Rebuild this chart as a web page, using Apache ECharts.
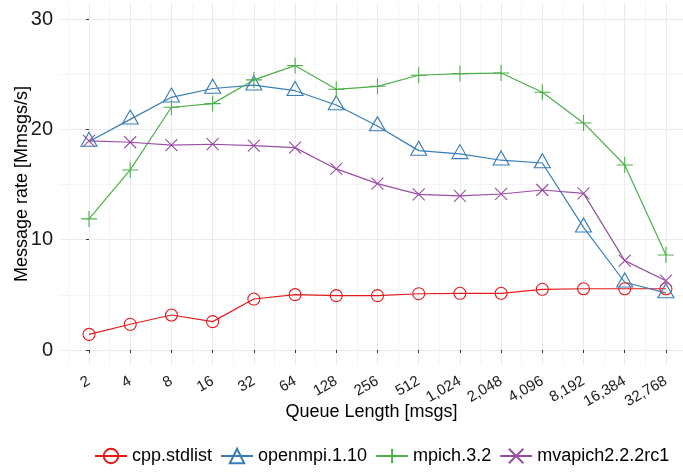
<!DOCTYPE html>
<html>
<head>
<meta charset="utf-8">
<script src="https://cdn.jsdelivr.net/npm/echarts@6/dist/echarts.min.js"></script>
<style>
  html, body { margin: 0; padding: 0; background: #ffffff; }
  #chart { width: 683px; height: 474px; }
</style>
</head>
<body>
<div id="chart"></div>
<script>
// Queue lengths on the x axis (evenly spaced, log2 steps)
const queueLengths = ['2', '4', '8', '16', '32', '64', '128', '256', '512',
  '1,024', '2,048', '4,096', '8,192', '16,384', '32,768'];

// Message rate [Mmsgs/s] per implementation
const cppStdlist    = [1.42, 2.33, 3.17, 2.57, 4.62, 5.02, 4.93, 4.93, 5.10, 5.14, 5.14, 5.50, 5.55, 5.55, 5.55];
const openmpi110    = [18.90, 20.90, 22.90, 23.70, 24.00, 23.50, 22.20, 20.30, 18.07, 17.77, 17.20, 16.95, 11.12, 6.14, 5.17];
const mpich32       = [11.88, 16.32, 22.00, 22.33, 24.48, 25.78, 23.63, 23.90, 24.90, 25.05, 25.10, 23.36, 20.58, 16.77, 8.61];
const mvapich222rc1 = [18.95, 18.83, 18.56, 18.65, 18.52, 18.34, 16.41, 15.08, 14.10, 13.96, 14.14, 14.50, 14.20, 8.10, 6.28];

const yMajorTicks = [0, 10, 20, 30];
const yMinorTicks = [5, 15, 25];

const xMajorTicks = queueLengths.map((_, i) => i);
const xMinorTicks = [-0.5].concat(queueLengths.map((_, i) => i + 0.5));

const FONT = '"Liberation Sans", Arial, Helvetica, sans-serif';
// Panel runs past the right edge of the canvas, so the visible x range ends early
const X_MIN = -0.704, X_MAX = 14.414;
const Y_MIN = -1.36, Y_MAX = 31.45;

const MAJOR_GRID = '#ebebeb';
const MINOR_GRID = '#f5f5f5';

const PLUS = 'path://M0,8L16,8M8,0L8,16';
const CROSS = 'path://M0,0L16,16M0,16L16,0';

function toPoints(values) {
  return values.map((v, i) => [i, v]);
}

function makeSeries(name, values, color, symbol, size, offset) {
  return {
    name: name,
    type: 'line',
    xAxisIndex: 0,
    yAxisIndex: 0,
    data: toPoints(values),
    symbol: symbol,
    symbolSize: size,
    symbolOffset: offset || [0, 0],
    showAllSymbol: true,
    clip: false,
    lineStyle: { color: color, width: 1.2 },
    itemStyle: { color: 'rgba(0,0,0,0)', borderColor: color, borderWidth: 1.1 },
    emphasis: { disabled: true },
    animation: false
  };
}

const chart = echarts.init(document.getElementById('chart'), null, { renderer: 'canvas' });

chart.setOption({
  backgroundColor: '#ffffff',
  animation: false,
  textStyle: { fontFamily: FONT },
  grid: { left: 60, right: 0, top: 3, bottom: 109, containLabel: false, outerBoundsMode: 'none' },
  xAxis: [
    {
      type: 'value', min: X_MIN, max: X_MAX, position: 'bottom', offset: 0,
      axisLine: { show: false },
      axisTick: { show: true, length: 3, customValues: xMajorTicks, lineStyle: { color: '#333333', width: 1 } },
      axisLabel: {
        show: true, customValues: xMajorTicks, rotate: 30, margin: 15,
        fontSize: 15, color: '#1a1a1a', fontFamily: FONT,
        formatter: v => queueLengths[Math.round(v)]
      },
      splitLine: { show: true, lineStyle: { color: MAJOR_GRID, width: 1 } },
      name: 'Queue Length [msgs]', nameLocation: 'middle', nameGap: 38, nameMoveOverlap: false,
      nameTextStyle: { fontSize: 18, color: '#000000', fontFamily: FONT }
    },
    {
      type: 'value', min: X_MIN, max: X_MAX, position: 'bottom', offset: 0,
      axisLine: { show: false },
      axisTick: { show: false, customValues: xMinorTicks },
      axisLabel: { show: false },
      splitLine: { show: true, lineStyle: { color: MINOR_GRID, width: 1 } }
    }
  ],
  yAxis: [
    {
      type: 'value', min: Y_MIN, max: Y_MAX, position: 'left', offset: 0,
      axisLine: { show: false },
      axisTick: { show: true, length: 3, customValues: yMajorTicks, lineStyle: { color: '#333333', width: 1 } },
      axisLabel: {
        show: true, customValues: yMajorTicks, margin: 7,
        fontSize: 20, color: '#1a1a1a', fontFamily: FONT
      },
      splitLine: { show: true, lineStyle: { color: MAJOR_GRID, width: 1 } },
      name: 'Message rate [Mmsgs/s]', nameLocation: 'middle', nameGap: 29, nameRotate: 90,
      nameMoveOverlap: false,
      nameTextStyle: { fontSize: 18, color: '#000000', fontFamily: FONT }
    },
    {
      type: 'value', min: Y_MIN, max: Y_MAX, position: 'left', offset: 0,
      axisLine: { show: false },
      axisTick: { show: false, customValues: yMinorTicks },
      axisLabel: { show: false },
      splitLine: { show: true, lineStyle: { color: MINOR_GRID, width: 1 } }
    }
  ],
  legend: {
    left: 94, top: 447, padding: 0,
    itemWidth: 32, itemHeight: 18, itemGap: 8,
    textStyle: { fontSize: 18, color: '#000000', fontFamily: FONT },
    data: ['cpp.stdlist', 'openmpi.1.10', 'mpich.3.2', 'mvapich2.2.2rc1']
  },
  series: [
    makeSeries('cpp.stdlist', cppStdlist, '#e41a1c', 'circle', 12),
    makeSeries('openmpi.1.10', openmpi110, '#377eb8', 'triangle', [16, 14], [0, -2.3]),
    makeSeries('mpich.3.2', mpich32, '#4daf4a', PLUS, 16),
    makeSeries('mvapich2.2.2rc1', mvapich222rc1, '#984ea3', CROSS, 12)
  ]
});
</script>
</body>
</html>
